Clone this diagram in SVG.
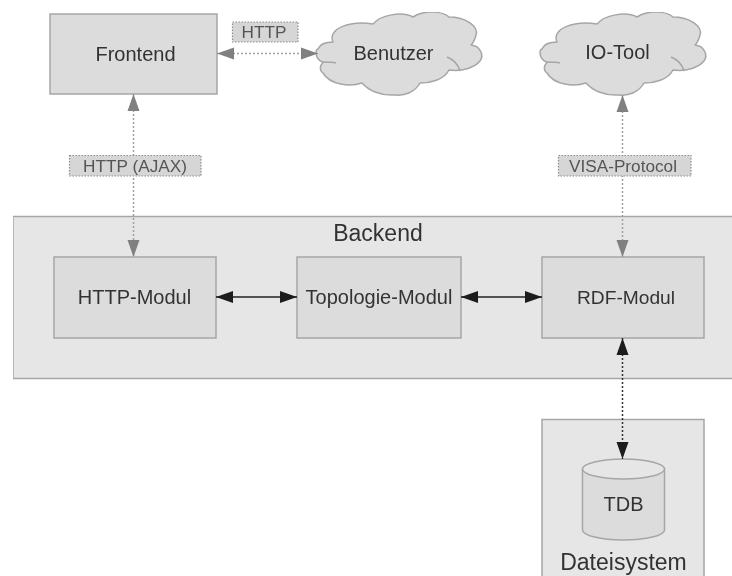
<svg xmlns="http://www.w3.org/2000/svg" width="732" height="576" viewBox="0 0 732 576">
<style>
text{font-family:"Liberation Sans",Arial,sans-serif;fill:#333;text-anchor:middle;font-size:20px}
.box{fill:#dcdcdc;stroke:#a6a6a6;stroke-width:1.5}
.group{fill:#e6e6e6;stroke:#a6a6a6;stroke-width:1.5}
.cloud{fill:#dcdcdc;stroke:#a6a6a6;stroke-width:1.5;stroke-linejoin:round}
.inner{fill:none;stroke:#a6a6a6;stroke-width:1.5}
.lbl{fill:#d6d6d6;stroke:#8c8c8c;stroke-width:1.2;stroke-dasharray:1.5 1.5}
.big{font-size:23px}
.mid{font-size:19.200px}
.lt{font-size:17.200px;fill:#555}
.grey{fill:none;stroke:#a0a0a0;stroke-width:1.5;stroke-dasharray:2 2;marker-start:url(#ag);marker-end:url(#ag)}
.blackd{fill:none;stroke:#333;stroke-width:1.5;stroke-dasharray:2 2;marker-start:url(#ab);marker-end:url(#ab)}
.black{fill:none;stroke:#222;stroke-width:1.5;marker-start:url(#ab);marker-end:url(#ab)}
#all{filter:url(#soft)}
</style>
<defs>
<filter id="soft" x="0" y="0" width="100%" height="100%"><feGaussianBlur stdDeviation="0.5"/></filter>
<marker id="ag" markerUnits="userSpaceOnUse" markerWidth="18" markerHeight="14" refX="17" refY="7" orient="auto-start-reverse"><path d="M0 1L17 7L0 13Z" fill="#808080"/></marker>
<marker id="ab" markerUnits="userSpaceOnUse" markerWidth="18" markerHeight="14" refX="17" refY="7" orient="auto-start-reverse"><path d="M0 1L17 7L0 13Z" fill="#1c1c1c"/></marker>
<g id="cloudShape">
<path class="cloud" d="M333 42C327 29 350 20 373 24C380 15 402 11 413 17C424 10 443 11 449 17C465 17 479 26 476 35C475 39 474 42 471 45C481 46 484 56 480 61C475 67 463 72 449 70C444 80 430 83 420 83C415 92 405 96 395 95C380 96 368 90 362 83C350 87 330 85 323 73C319 70 320 66 323 62C315 60 315 50 318 49C320 44 326 42 333 42Z"/>
<path class="inner" d="M447 57C452 59 458 64 460 71M322 62C327 62 332 62 336 63"/>
</g>
</defs>
<g id="all">
<g id="backend"><rect class="group" x="13" y="216.500" width="720" height="162"/><text class="big" x="378" y="241">Backend</text></g>
<g id="dateisystem"><rect class="group" x="542" y="419.500" width="162" height="160"/><text class="big" x="623.500" y="570">Dateisystem</text></g>
<g id="frontend"><rect class="box" x="50" y="14" width="167" height="80"/><text x="135.500" y="61">Frontend</text></g>
<g id="benutzer"><use href="#cloudShape"/><text x="393.500" y="60">Benutzer</text></g>
<g id="iotool"><use href="#cloudShape" x="224"/><text x="617.500" y="59">IO-Tool</text></g>
<g id="httpmodul"><rect class="box" x="54" y="257" width="162" height="81"/><text x="134.500" y="304">HTTP-Modul</text></g>
<g id="topologie"><rect class="box" x="297" y="257" width="164" height="81"/><text x="379" y="304">Topologie-Modul</text></g>
<g id="rdfmodul"><rect class="box" x="542" y="257" width="162" height="81"/><text class="mid" x="626" y="304">RDF-Modul</text></g>
<g id="tdb">
<path class="box" d="M582.500 469V530A41 10 0 0 0 664.500 530V469Z"/>
<ellipse cx="623.500" cy="469" rx="41" ry="10" fill="#e6e6e6" stroke="#a6a6a6" stroke-width="1.5"/>
<text x="623.500" y="511">TDB</text>
</g>
<g id="connectors">
<path class="grey" d="M217 53.500H318"/>
<path class="grey" d="M133.500 94V257"/>
<path class="grey" d="M622.500 95V257"/>
<path class="black" d="M216 297H297"/>
<path class="black" d="M461 297H542"/>
<path class="blackd" d="M622.500 338V459"/>
</g>
<g id="label-http"><rect class="lbl" x="232.500" y="22" width="65.500" height="20"/><text class="lt" x="264" y="38">HTTP</text></g>
<g id="label-ajax"><rect class="lbl" x="69.500" y="155.500" width="131.500" height="20.500"/><text class="lt" x="135" y="171.500">HTTP (AJAX)</text></g>
<g id="label-visa"><rect class="lbl" x="558.500" y="155.500" width="132.500" height="20.500"/><text class="lt" x="623" y="171.500">VISA-Protocol</text></g>
</g>
</svg>
